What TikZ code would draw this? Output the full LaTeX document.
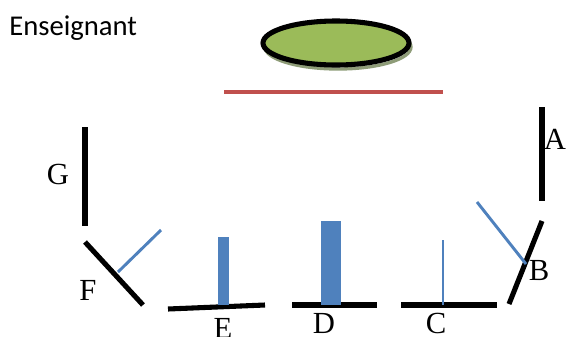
\documentclass[tikz,border=0pt]{standalone}
\usepackage{fontspec}
\setmainfont{Liberation Serif}
\newfontfamily\calibrifont{Carlito}
\usetikzlibrary{positioning}
\definecolor{deskblue}{HTML}{4F81BD}
\definecolor{boardred}{HTML}{C0504D}
\definecolor{tablegreen}{HTML}{9BBB59}
\definecolor{shadowgray}{HTML}{8E9C78}

\begin{document}
\begin{tikzpicture}[x=0.75pt, y=-0.75pt,
  wall/.style={line width=3.8pt, black},
  ray/.style={line width=2.2pt, deskblue},
  bar/.style={fill=deskblue, draw=none},
  lbl/.style={font=\fontsize{23}{26}\selectfont, inner sep=0pt},
]
\useasboundingbox (0,0) rectangle (566,336);

% ---- Teacher and table ----
\node[font=\calibrifont\fontsize{21.5}{25}\selectfont, anchor=base west, inner sep=0pt]
  (teacher) at (9,35) {Enseignant};

\draw[shadowgray, line width=2.5pt] (338,47) ellipse (73 and 22);
\draw[fill=tablegreen, line width=3.8pt] (336,43) ellipse (73 and 22);

\draw[boardred, line width=3pt] (224,92) -- (443,92);

% ---- Left side: G and F ----
\draw[wall] (85,127) -- (85,226);
\node[lbl] (G) at (58,174) {G};

\draw[wall] (85,242) -- (143,305);
\draw[ray] (118,272) -- (161,230);
\node[lbl] (F) at (88,290) {F};

% ---- Bottom row: E, D, C ----
\draw[wall] (168,309) -- (265,305);
\fill[bar] (218,237) rectangle (229,305);
\node[lbl] (E) at (223,328) {E};

\draw[wall] (292,305) -- (377,305);
\fill[bar] (321,221) rectangle (341,305);
\node[lbl] (D) at (324,323) {D};

\draw[wall] (401,305) -- (497,305);
\draw[ray] (443,240) -- (443,305);
\node[lbl] (C) at (436,323) {C};

% ---- Right side: B and A ----
\draw[wall] (509,304) -- (542,221);
\draw[ray] (477,202) -- (526,264);
\node[lbl] (B) at (539,270) {B};

\draw[wall] (542,107) -- (542,201);
\node[lbl] (A) at (555,139) {A};

\end{tikzpicture}
\end{document}
